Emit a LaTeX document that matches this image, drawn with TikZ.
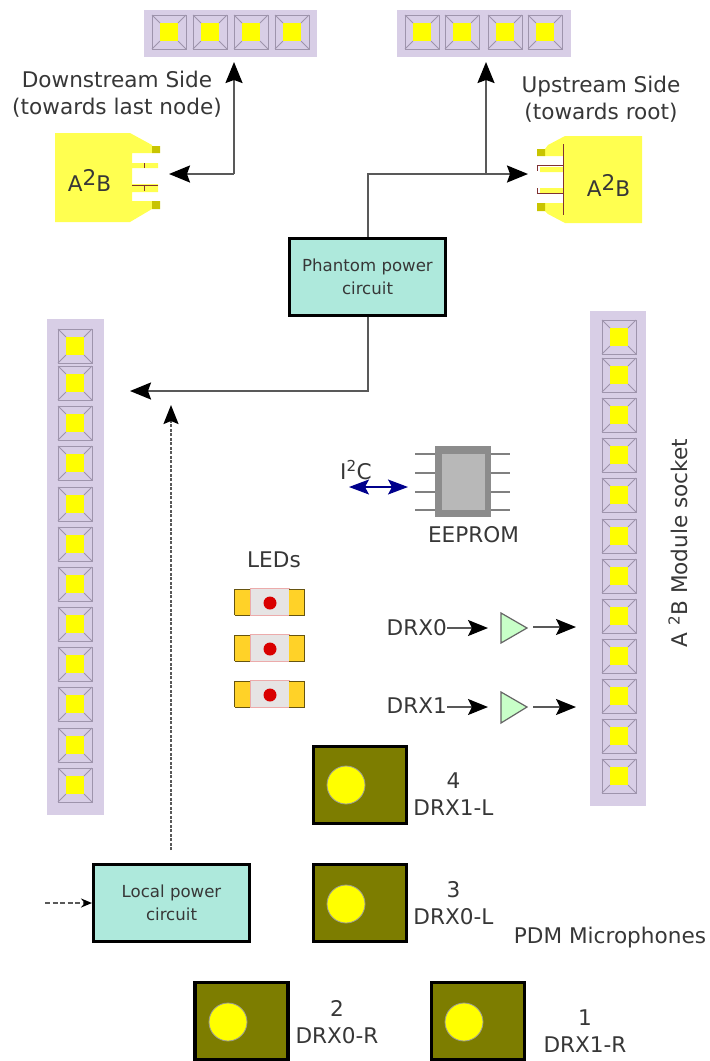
\documentclass[tikz,border=0pt]{standalone}
\usepackage{fontspec}
\setmainfont{DejaVu Sans}
\usetikzlibrary{arrows.meta,positioning}
\definecolor{headerlilac}{RGB}{216,206,230}
\definecolor{padgray}{RGB}{158,148,172}
\definecolor{pinyellow}{RGB}{255,255,0}
\definecolor{micolive}{RGB}{125,125,0}
\definecolor{boxteal}{RGB}{174,233,220}
\definecolor{abyellow}{RGB}{255,255,80}
\definecolor{abpad}{RGB}{200,196,0}
\definecolor{abred}{RGB}{128,50,50}
\definecolor{labelgray}{RGB}{55,55,55}
\definecolor{ledgold}{RGB}{255,210,40}
\definecolor{ledbody}{RGB}{230,228,228}
\definecolor{ampgreen}{RGB}{200,255,200}
\definecolor{i2cblue}{RGB}{0,0,140}
\tikzset{
  lbl/.style={font=\fontsize{21.6}{27}\selectfont,text=labelgray,align=center,inner sep=0pt},
  powerbox/.style={draw=black,line width=3pt,fill=boxteal,minimum width=156pt,minimum height=77pt,
    font=\fontsize{16.6}{23}\selectfont,text=labelgray,align=center,inner sep=0pt},
  micbox/.style={draw=black,line width=3.4pt,fill=micolive,minimum width=93pt,minimum height=77pt,inner sep=0pt},
  wire/.style={draw=black!65,line width=2pt},
  bigarrow/.style={-{Stealth[length=21pt,width=17pt,inset=3pt,black]}},
  midarrow/.style={-{Stealth[length=20pt,width=16pt,inset=4pt,black]}},
}
% one header pin: centre x, centre y
\newcommand{\headerpin}[2]{
  \draw[padgray,line width=1pt] (#1-17,#2-17) rectangle (#1+17,#2+17);
  \draw[padgray,line width=1pt] (#1-17,#2-17) -- (#1-9,#2-9) (#1+17,#2-17) -- (#1+9,#2-9)
    (#1-17,#2+17) -- (#1-9,#2+9) (#1+17,#2+17) -- (#1+9,#2+9);
  \fill[pinyellow] (#1-9,#2-9) rectangle (#1+9,#2+9);
}
% one LED: centre y
\newcommand{\ledpart}[1]{
  \draw[red!25!ledbody,fill=ledbody,line width=0.8pt] (250,#1-13.5) rectangle (289,#1+13.5);
  \fill[ledgold] (234.5,#1-13) rectangle (250,#1+13);
  \fill[ledgold] (289,#1-13) rectangle (304.5,#1+13);
  \draw[black!60!ledgold,line width=1pt] (234.5,#1-13) -- (250,#1-13) (234.5,#1+13) -- (250,#1+13) (234.5,#1-13) -- (234.5,#1+13);
  \draw[black!60!ledgold,line width=1pt] (289,#1-13) -- (304.5,#1-13) (289,#1+13) -- (304.5,#1+13) (304.5,#1-13) -- (304.5,#1+13);
  \fill[red!85!black] (270,#1+1) circle (6.5);
}
\begin{document}
\begin{tikzpicture}[x=1pt,y=-1pt]
  \useasboundingbox (0,0) rectangle (710,1061);

  % headers
  \fill[headerlilac] (144,10) rectangle (317,57);
  \fill[headerlilac] (397,10) rectangle (571,57);
  \fill[headerlilac] (47,319) rectangle (104,815);
  \fill[headerlilac] (590,311) rectangle (646,806);
  \foreach \px in {169,210,251,292} {\headerpin{\px}{32}}
  \foreach \px in {422,462,505,545} {\headerpin{\px}{32}}
  \foreach \py in {346,383,423,463,504,544,584,624,664,704,745,785} {\headerpin{75}{\py}}
  \foreach \py in {337,375,415,455,495,536,576,616,656,696,736,776} {\headerpin{619}{\py}}

  % left A2B
  \fill[abyellow] (55,133) -- (130,133) -- (152,145) -- (152,153) -- (132,153) -- (132,163) -- (158,163)
    -- (158,168) -- (132,168) -- (132,184) -- (158,184) -- (158,192) -- (132,192) -- (132,201)
    -- (152,201) -- (152,209) -- (130,222) -- (55,222) -- cycle;
  \fill[abpad] (152,146) rectangle (160,153) (152,201) rectangle (160,209);
  \draw[abred,line width=0.8pt] (132,185) -- (158,185) (144,186) -- (144,191) (144,163) -- (144,168);
  \node[lbl] (abdown) at (89.5,180) {A\raisebox{6pt}{2}B};

  % right A2B
  \fill[abyellow] (642,136) -- (565,136) -- (548,145) -- (545,149) -- (545,156) -- (563,156) -- (563,167)
    -- (540,167) -- (540,172) -- (563,172) -- (563,188) -- (540,188) -- (540,193) -- (563,193)
    -- (563,203) -- (545,203) -- (545,211) -- (548,214) -- (565,223) -- (642,223) -- cycle;
  \fill[abpad] (537,149) rectangle (545,156) (537,203) rectangle (545,211);
  \draw[abred,line width=0.9pt] (563.5,144) -- (563.5,215) (563,165.5) -- (537.5,165.5) -- (537.5,171)
    (563,193.5) -- (537.5,193.5) -- (537.5,188);
  \node[lbl] (abup) at (608.5,185) {A\raisebox{6pt}{2}B};

  \node[lbl] (downlabel) at (117,94.5) {Downstream Side\\(towards last node)};
  \node[lbl] (uplabel) at (601,99) {Upstream Side\\(towards root)};

  % power
  \node[powerbox] (phantom) at (367.5,276.5) {Phantom power\\circuit};
  \node[powerbox] (localpower) at (171.5,903) {Local power\\circuit};
  \coordinate (downport) at (169,174);
  \coordinate (downcorner) at (234,174);
  \coordinate (downheader) at (234,62);
  \coordinate (upport) at (528,174);
  \coordinate (upbranch) at (486,174);
  \coordinate (upheader) at (486,62);
  \coordinate (rail) at (130,391);
  \coordinate (railup) at (171,405);
  \coordinate (localout) at (171,850);
  \coordinate (dcin) at (45,903);
  \draw[wire,bigarrow] (downcorner) -- (downheader);
  \draw[wire,bigarrow] (downcorner) -- (downport);
  \draw[wire,bigarrow] (phantom.north) |- (upport);
  \draw[wire,bigarrow] (upbranch) -- (upheader);
  \draw[wire,bigarrow] (phantom.south) |- (rail);
  \draw[wire,dash pattern=on 3pt off 1.5pt,-{Stealth[length=19pt,width=15pt,inset=3pt,black]}] (localout) -- (railup);
  \draw[wire,dash pattern=on 5pt off 2.5pt,-{Stealth[length=11pt,width=9pt,black]}] (dcin) -- (localpower.west);

  % EEPROM
  \foreach \py in {454,473,492,510} {
    \draw[black!50,line width=1.8pt] (415,\py) -- (510,\py);
  }
  \fill[black!45] (435,446) rectangle (491,517);
  \node[fill=black!28,minimum width=43pt,minimum height=56pt,inner sep=0pt] (eeprom) at (463.5,482) {};
  \node[lbl] (eepromlabel) at (473.5,535) {EEPROM};
  \node[lbl] (i2clabel) at (356,470) {I\textsuperscript{2}C};
  \coordinate (i2cwest) at (349,487);
  \coordinate (i2ceast) at (408,487);
  \draw[i2cblue,line width=1.2pt,{Stealth[length=20pt,width=15pt,inset=4pt]}-{Stealth[length=20pt,width=15pt,inset=4pt]}] (i2cwest) -- (i2ceast);

  % LEDs
  \node[lbl] (ledlabel) at (274,560) {LEDs};
  \ledpart{602}
  \ledpart{648}
  \ledpart{694}

  % data lines
  \node[lbl,anchor=east] (drxa) at (447,628) {DRX0};
  \node[lbl,anchor=east] (drxb) at (447,706) {DRX1};
  \draw[draw=black!60,line width=1.2pt,fill=ampgreen] (501,613) -- (527,628) -- (501,643) -- cycle;
  \draw[draw=black!60,line width=1.2pt,fill=ampgreen] (501,692) -- (527,707) -- (501,723) -- cycle;
  \coordinate (drxain) at (488,628);
  \coordinate (drxbin) at (488,707);
  \coordinate (drxaout) at (533,627);
  \coordinate (drxbout) at (533,707);
  \coordinate (socketa) at (576,627);
  \coordinate (socketb) at (576,707);
  \draw[wire,midarrow] (drxa.east) -- (drxain);
  \draw[wire,midarrow] (drxb.east |- drxbin) -- (drxbin);
  \draw[wire,midarrow] (drxaout) -- (socketa);
  \draw[wire,midarrow] (drxbout) -- (socketb);
  \node[lbl,rotate=90] (socketlabel) at (678,543) {A \textsuperscript{2}B Module socket};

  % microphones
  \node[micbox] (micfour) at (360,785) {};
  \node[micbox] (micthree) at (360,903) {};
  \node[micbox] (mictwo) at (241.5,1021) {};
  \node[micbox] (micone) at (478,1021) {};
  \foreach \cx/\cy in {346/785,346/904,228/1022,464/1022} {
    \draw[black!40,line width=0.8pt,fill=pinyellow] (\cx,\cy) circle (19);
  }
  \node[lbl] (micfourlabel) at (453.5,794) {4\\DRX1-L};
  \node[lbl] (micthreelabel) at (453.5,903) {3\\DRX0-L};
  \node[lbl] (mictwolabel) at (337,1022.5) {2\\DRX0-R};
  \node[lbl] (miconelabel) at (585,1031) {1\\DRX1-R};
  \node[lbl] (pdmlabel) at (610,938) {PDM Microphones};
\end{tikzpicture}
\end{document}
